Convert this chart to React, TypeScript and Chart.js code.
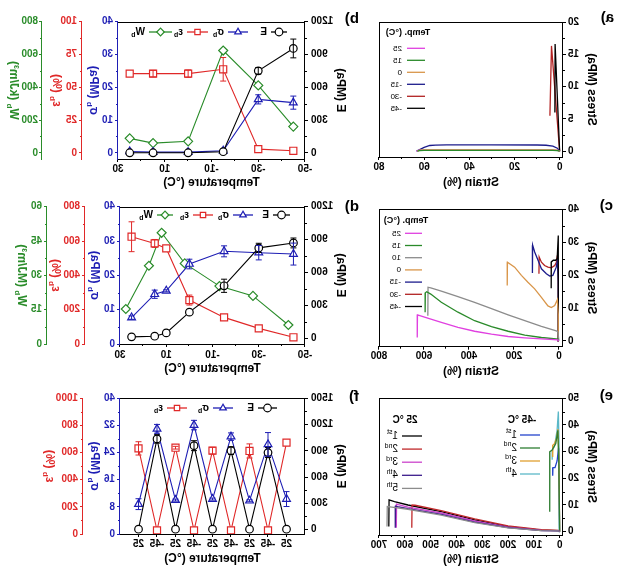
import React, { useEffect, useRef } from "react";
import { Chart, registerables } from "chart.js";

Chart.register(...registerables);

const FONT = "'Liberation Sans', Arial, Helvetica, sans-serif";
const BLACK = "#000000";
const BLUE = "#1e1eb4";
const RED = "#e02828";
const GREEN = "#2a8c2a";

/* ================= DATA ================= */
// Panel a: stress–strain at different temperatures
const aLegend = ["25", "15", "0", "-15", "-30", "-45"];
const aStrain25 = [0, 1, 3, 20, 40, 60, 62.5, 63.4];
const aStress25 = [0, 0.12, 0.15, 0.15, 0.15, 0.15, 0.12, 0];
const aStrain15 = [0, 1, 3, 20, 40, 60, 62, 63];
const aStress15 = [0, 0.1, 0.12, 0.12, 0.12, 0.12, 0.1, 0];
const aStrain0 = [0, 1, 3, 20, 40, 60, 62, 63];
const aStress0 = [0, 0.15, 0.2, 0.2, 0.2, 0.2, 0.15, 0];
const aStrainM15 = [0, 1, 3, 6, 10, 30, 50, 55, 57.5, 60, 62, 63.4];
const aStressM15 = [0, 0.45, 0.78, 0.92, 0.96, 0.97, 0.97, 0.95, 0.88, 0.6, 0.25, 0];
const aStrainM30 = [0, 3.6, 4.3];
const aStressM30 = [0, 16.3, 5.5];
const aStrainM45 = [0, 2.0, 2.1];
const aStressM45 = [0, 16.6, 6.0];

// Panel b: properties vs temperature
const bTemp = [25, 15, 0, -15, -30, -45];
const bE = [0, 0, 0, 10, 750, 955];
const bEErr = [0, 0, 0, 0, 30, 86];
const bSigma = [0.4, 0.2, 0.2, 0.6, 16.3, 15.3];
const bSigmaErr = [0, 0, 0, 0, 1.4, 2.0];
const bEps = [60.4, 60.4, 60.4, 63.7, 2.8, 1.5];
const bEpsErr = [0, 2.5, 2.8, 9, 0, 0];
const bW = [88, 59, 70, 624, 411, 160];

// Panel c: stress–strain
const cLegend = ["25", "15", "10", "0", "-15", "-30", "-45"];
const cStrain25 = [0, 4, 78, 152, 226, 300, 375, 449, 523, 580, 629, 630];
const cStress25 = [0, 0.3, 0.6, 0.9, 1.3, 2.0, 2.9, 4.1, 5.6, 6.8, 7.9, 1.0];
const cStrain15 = [0, 4, 78, 152, 226, 300, 375, 449, 523, 570, 588, 594, 595];
const cStress15 = [0, 0.5, 1.0, 1.7, 2.9, 4.3, 6.1, 8.7, 11.7, 14.2, 14.9, 14.6, 8.7];
const cStrain10 = [0, 5, 12, 78, 152, 226, 300, 375, 449, 523, 570, 582, 583];
const cStress10 = [0, 2.8, 3.0, 4.4, 6.1, 7.9, 9.8, 11.7, 13.4, 15.1, 16.1, 16.3, 7.6];
const cStrain0 = [0, 3, 7, 19, 34, 49, 78, 108, 138, 167, 197, 229, 230];
const cStress0 = [0, 8, 12.5, 10.7, 10.1, 10.6, 13.2, 15.8, 17.8, 19.9, 22.4, 23.9, 16.8];
const cStrainM15 = [0, 3, 7, 12, 27, 41, 56, 78, 93, 108, 117, 118];
const cStressM15 = [0, 18, 24.5, 22.4, 19.9, 19.7, 20.4, 21.9, 24.5, 27.0, 29.1, 20.6];
const cStrainM30 = [0, 3, 7, 12, 19, 34, 49, 64, 78, 88, 89];
const cStressM30 = [0, 20, 26, 23.8, 22.9, 22.2, 22.4, 22.9, 23.9, 25.5, 20.4];
const cStrainM45 = [0, 2, 4, 8, 15, 25, 34, 34.5];
const cStressM45 = [0, 20, 32, 25, 24.5, 24.5, 24, 16];

// Panel d: properties vs temperature
const dTemp = [25, 15, 10, 0, -15, -30, -45];
const dWTemp = [27.5, 17.5, 12, 2, -13, -27.5, -42.8];
const dE = [15, 21, 51, 240, 480, 825, 870];
const dEErr = [0, 0, 0, 0, 60, 42, 45];
const dSigma = [7.7, 14.5, 15.5, 23.3, 27.0, 26.6, 26.2];
const dSigmaErr = [0.5, 1.2, 0.3, 1.4, 1.6, 2.1, 3.2];
const dEps = [625, 586, 557, 256, 155, 91, 39];
const dEpsErr = [87, 23, 0, 29, 0, 0, 0];
const dW = [15.3, 34.2, 48.6, 35.2, 25.3, 21.0, 8.3];

// Panel e: cyclic stress–strain
const e25Legend = ["1", "2", "3", "4", "5"];
const e25Sup = ["st", "nd", "rd", "th", "th"];
const e45Legend = ["1", "2", "3", "4"];
const e45Sup = ["st", "nd", "rd", "th"];
const e25Strain1 = [0, 5, 71, 200, 329, 459, 588, 640, 661, 662];
const e25Stress1 = [0, 0.4, 0.6, 1.9, 4.4, 7.5, 10.0, 11.3, 11.9, 1.9];
const e25Strain2 = [0, 5, 71, 200, 329, 459, 560, 572, 573];
const e25Stress2 = [0, 0.5, 0.8, 2.2, 4.8, 7.9, 9.9, 10.0, 1.5];
const e25Strain3 = [0, 5, 71, 200, 329, 459, 588, 625, 632, 633];
const e25Stress3 = [0, 0.4, 0.5, 1.7, 4.0, 7.0, 9.2, 10.1, 10.3, 1.5];
const e25Strain4 = [0, 5, 71, 200, 329, 459, 588, 628, 636, 637];
const e25Stress4 = [0, 0.3, 0.4, 1.5, 3.6, 6.5, 8.6, 9.4, 9.6, 1.5];
const e25Strain5 = [0, 5, 71, 200, 329, 459, 588, 650, 668, 669];
const e25Stress5 = [0, 0.3, 0.4, 1.4, 3.4, 6.2, 8.4, 9.2, 9.4, 1.9];
const e45Strain1 = [0, 4, 10, 18, 26, 27];
const e45Stress1 = [0, 31.5, 26.5, 24, 24, 21];
const e45Strain2 = [0, 3, 7, 15, 30, 38, 38.5];
const e45Stress2 = [0, 25, 38, 33, 30.5, 30, 7.5];
const e45Strain3 = [0, 3, 7, 12, 20, 26, 27];
const e45Stress3 = [0, 28, 38.5, 35, 33, 32.5, 28];
const e45Strain4 = [0, 2, 5, 10, 20, 28, 29];
const e45Stress4 = [0, 30, 45, 38, 32, 30.6, 27];

// Panel f: alternating temperature cycles
const fLabels = ["25", "-45", "25", "-45", "25", "-45", "25", "-45", "25"];
const fPos = [1, 2, 3, 4, 5, 6, 7, 8, 9];
const fE = [5, 880, 5, 902, 5, 959, 5, 1036, 5];
const fEErr = [0, 57, 0, 45, 0, 57, 0, 48, 0];
const fSigma = [10.3, 26.4, 9.8, 28.7, 10.3, 32.1, 10.0, 31.0, 8.8];
const fSigmaErr = [2.2, 3.5, 0.3, 1.1, 0.3, 1.4, 0.3, 1.3, 1.6];
const fEps = [673, 27, 612, 27, 614, 27, 636, 27, 631];
const fEpsErr = [0, 0, 52, 0, 25, 0, 10, 0, 49];

/* ================= STYLES ================= */
const aColors = ["#e040e0", "#2a8a2a", "#d9964a", "#1c1c8c", "#b22222", "#000000"];
const cColors = ["#e040e0", "#2a8a2a", "#8c8c8c", "#d9964a", "#1c1c8c", "#b22222", "#000000"];
const e25Colors = ["#000000", "#c0282a", "#cc44cc", "#3c1c8c", "#8c8c8c"];
const e45Colors = ["#2444cc", "#2e7d32", "#e0a030", "#5bb8c8"];

/* ================= HELPERS ================= */
type Part = { t: string; s?: "sub" | "sup" };
const T = (t: string): Part => ({ t });
const SUB = (t: string): Part => ({ t, s: "sub" });
const SUP = (t: string): Part => ({ t, s: "sup" });

const fontStr = (size: number, weight: string) => `${weight} ${size}px ${FONT}`;

function drawRich(ctx: any, parts: Part[], x: number, y: number, size: number, weight: string, color: string, align: string) {
  ctx.save();
  ctx.fillStyle = color;
  ctx.textBaseline = "middle";
  ctx.textAlign = "left";
  const sz = (p: Part) => (p.s ? Math.round(size * 0.7) : size);
  let w = 0;
  for (const p of parts) {
    ctx.font = fontStr(sz(p), weight);
    w += ctx.measureText(p.t).width;
  }
  let cx = align === "center" ? x - w / 2 : x;
  for (const p of parts) {
    ctx.font = fontStr(sz(p), weight);
    const dy = p.s === "sub" ? size * 0.32 : p.s === "sup" ? -size * 0.35 : 0;
    ctx.fillText(p.t, cx, y + dy);
    cx += ctx.measureText(p.t).width;
  }
  ctx.restore();
}

function drawMarker(ctx: any, style: string, x: number, y: number, r: number, color: string) {
  ctx.save();
  ctx.beginPath();
  if (style === "circle") ctx.arc(x, y, r, 0, Math.PI * 2);
  else if (style === "triangle") {
    for (let k = 0; k < 3; k++) {
      const a = (k * 2 * Math.PI) / 3;
      const px = x + Math.sin(a) * r;
      const py = y - Math.cos(a) * r;
      if (k === 0) ctx.moveTo(px, py);
      else ctx.lineTo(px, py);
    }
    ctx.closePath();
  } else if (style === "rect") {
    const s = r * Math.SQRT1_2;
    ctx.rect(x - s, y - s, 2 * s, 2 * s);
  } else {
    ctx.moveTo(x, y - r);
    ctx.lineTo(x + r, y);
    ctx.lineTo(x, y + r);
    ctx.lineTo(x - r, y);
    ctx.closePath();
  }
  ctx.fillStyle = "#ffffff";
  ctx.fill();
  ctx.strokeStyle = color;
  ctx.lineWidth = 1.2;
  ctx.stroke();
  ctx.restore();
}

const pts = (xs: number[], ys: number[]) => xs.map((x, i) => ({ x, y: ys[i] }));
const range = (a: number, b: number, s: number) => {
  const out: number[] = [];
  for (let v = a; v <= b + 1e-9; v += s) out.push(Math.round(v * 1000) / 1000);
  return out;
};
const fixedTicks = (vals: number[]) => (s: any) => {
  s.ticks = vals.map((v) => ({ value: v }));
};
const tickFont = () => ({ family: FONT, size: 10, weight: "bold" as any });
const titleFont = () => ({ family: FONT, size: 12, weight: "bold" as any });

function axisBase(color: string, pad = 2, cb?: (v: any) => string) {
  return {
    grid: { display: true, drawOnChartArea: false, drawTicks: true, tickLength: 3, tickColor: color, color },
    border: { display: true, color, width: 1 },
    ticks: { color, font: tickFont(), padding: pad, autoSkip: false, maxRotation: 0, minRotation: 0, callback: cb || ((v: any) => String(v)) },
  };
}

interface LegendItem { x: number; y: number; len: number; gap: number; color: string; marker?: string; parts: Part[]; size: number; weight: string }
interface TextItem { x: number; y: number; parts: Part[]; size: number; weight: string; color: string; align: string }
interface AxisTitle { scale: string; dx: number; parts: Part[]; color: string }
interface Deco { rightBorder?: boolean; minor?: Record<string, number>; titles?: AxisTitle[]; legend?: LegendItem[]; texts?: TextItem[] }

function decoPlugin(cfg: Deco) {
  return {
    id: "deco",
    afterDraw(chart: any) {
      const ctx = chart.ctx;
      const a = chart.chartArea;
      ctx.save();
      ctx.strokeStyle = BLACK;
      ctx.lineWidth = 1;
      ctx.beginPath();
      const ty = Math.round(a.top) + 0.5;
      ctx.moveTo(a.left, ty);
      ctx.lineTo(a.right, ty);
      if (cfg.rightBorder) {
        const rx = Math.round(a.right) - 0.5;
        ctx.moveTo(rx, a.top);
        ctx.lineTo(rx, a.bottom);
      }
      ctx.stroke();
      // minor ticks
      for (const id of Object.keys(cfg.minor || {})) {
        const s = chart.scales[id];
        const step = (cfg.minor as any)[id];
        if (!s || !step) continue;
        const col = (s.options.border && s.options.border.color) || BLACK;
        const majors = s.ticks.map((t: any) => t.value);
        const pos = s.options.position;
        ctx.strokeStyle = col;
        ctx.lineWidth = 1;
        ctx.beginPath();
        const start = Math.ceil(s.min / step - 1e-9) * step;
        for (let v = start; v <= s.max + 1e-9; v += step) {
          if (majors.some((m: number) => Math.abs(m - v) < step * 1e-3)) continue;
          const p = Math.round(s.getPixelForValue(v)) + 0.5;
          if (pos === "bottom") {
            ctx.moveTo(p, s.top);
            ctx.lineTo(p, s.top + 2);
          } else if (pos === "left") {
            ctx.moveTo(s.right, p);
            ctx.lineTo(s.right - 2, p);
          } else {
            ctx.moveTo(s.left, p);
            ctx.lineTo(s.left + 2, p);
          }
        }
        ctx.stroke();
      }
      // error bars
      chart.data.datasets.forEach((ds: any, i: number) => {
        if (!ds.errorBars) return;
        const meta = chart.getDatasetMeta(i);
        const sc = chart.scales[ds.yAxisID];
        ctx.strokeStyle = ds.borderColor;
        ctx.lineWidth = 1;
        meta.data.forEach((el: any, j: number) => {
          const e = ds.errorBars[j];
          if (!e) return;
          const v = ds.data[j].y;
          const y1 = sc.getPixelForValue(v + e);
          const y2 = sc.getPixelForValue(v - e);
          ctx.beginPath();
          ctx.moveTo(el.x, y1);
          ctx.lineTo(el.x, y2);
          ctx.moveTo(el.x - 3, y1);
          ctx.lineTo(el.x + 3, y1);
          ctx.moveTo(el.x - 3, y2);
          ctx.lineTo(el.x + 3, y2);
          ctx.stroke();
        });
      });
      for (const t of cfg.titles || []) {
        const s = chart.scales[t.scale];
        ctx.save();
        ctx.translate(s.left + t.dx, (a.top + a.bottom) / 2);
        ctx.rotate(-Math.PI / 2);
        drawRich(ctx, t.parts, 0, 0, 12, "bold", t.color, "center");
        ctx.restore();
      }
      for (const it of cfg.legend || []) {
        ctx.strokeStyle = it.color;
        ctx.lineWidth = 1.3;
        ctx.beginPath();
        ctx.moveTo(it.x, it.y);
        ctx.lineTo(it.x + it.len, it.y);
        ctx.stroke();
        if (it.marker) drawMarker(ctx, it.marker, it.x + it.len / 2, it.y, 3.8, it.color);
        drawRich(ctx, it.parts, it.x + it.len + it.gap, it.y, it.size, it.weight, BLACK, "left");
      }
      for (const tx of cfg.texts || []) {
        drawRich(ctx, tx.parts, tx.x, tx.y, tx.size, tx.weight, tx.color, tx.align);
      }
      ctx.restore();
    },
  };
}

/* ================= CHART BUILDERS ================= */
function makeStress(p: any) {
  const xa = axisBase(BLACK, p.labelPad);
  const ya = axisBase(BLACK, 2);
  return {
    type: "scatter",
    data: {
      datasets: p.curves.map((c: any) => ({
        data: pts(c.xs, c.ys),
        borderColor: c.color,
        backgroundColor: c.color,
        showLine: true,
        pointRadius: 0,
        pointHoverRadius: 0,
        borderWidth: 1.3,
        tension: 0,
      })),
    },
    options: {
      responsive: false,
      animation: false,
      devicePixelRatio: 1,
      events: [],
      layout: { padding: { top: p.top, right: 19, left: 0, bottom: 0 } },
      plugins: { legend: { display: false }, tooltip: { enabled: false } },
      scales: {
        x: {
          type: "linear",
          position: "bottom",
          min: p.xMin,
          max: p.xMax,
          afterBuildTicks: fixedTicks(p.xTicks),
          afterFit: (s: any) => {
            s.height = p.H - p.bottom;
          },
          ...xa,
          title: { display: true, text: "Strain (%)", color: BLACK, font: titleFont(), padding: { top: 0, bottom: p.titlePad } },
        },
        y: {
          type: "linear",
          position: "left",
          min: p.yMin,
          max: p.yMax,
          afterBuildTicks: fixedTicks(p.yTicks),
          afterFit: (s: any) => {
            s.width = 77;
          },
          ...ya,
          title: { display: true, text: "Stress (MPa)", color: BLACK, font: titleFont(), padding: { top: 41, bottom: 0 } },
        },
      },
    },
    plugins: [decoPlugin({ rightBorder: true, minor: { x: p.xMinor, y: p.yMinor }, legend: p.legend, texts: p.texts })],
  };
}

function series(xs: number[], ys: number[], yAxisID: string, color: string, pointStyle: string, radius: number, errs?: number[]) {
  return {
    data: pts(xs, ys),
    yAxisID,
    borderColor: color,
    backgroundColor: "#ffffff",
    pointBorderColor: color,
    pointBackgroundColor: "#ffffff",
    pointStyle,
    pointRadius: radius,
    pointHoverRadius: radius,
    pointBorderWidth: 1.2,
    borderWidth: 1.1,
    showLine: true,
    tension: 0,
    errorBars: errs,
  };
}

function makeRight(p: any) {
  const scales: any = {
    x: {
      type: "linear",
      position: "bottom",
      min: p.x.min,
      max: p.x.max,
      afterBuildTicks: fixedTicks(p.x.ticks),
      afterFit: (s: any) => {
        s.height = p.H - p.bottom;
      },
      ...axisBase(BLACK, p.labelPad, p.x.callback),
      title: { display: true, text: "Temperature (°C)", color: BLACK, font: titleFont(), padding: { top: 0, bottom: p.titlePad } },
    },
    yE: {
      type: "linear",
      position: "left",
      min: p.e.min,
      max: p.e.max,
      afterBuildTicks: fixedTicks(p.e.ticks),
      afterFit: (s: any) => {
        s.width = 55;
      },
      ...axisBase(BLACK, 3),
      title: { display: true, text: "E (MPa)", color: BLACK, font: titleFont(), padding: { top: 12, bottom: 0 } },
    },
  };
  const minor: any = { yE: p.e.minor };
  if (p.x.minor) minor.x = p.x.minor;
  const titles: AxisTitle[] = [];
  p.axes.forEach((ax: any, k: number) => {
    scales[ax.id] = {
      type: "linear",
      position: "right",
      weight: k,
      min: ax.min,
      max: ax.max,
      afterBuildTicks: fixedTicks(ax.ticks),
      afterFit: (s: any) => {
        s.width = ax.width;
      },
      ...axisBase(ax.color, ax.pad ?? 2),
      title: { display: false },
    };
    minor[ax.id] = ax.minor;
    titles.push({ scale: ax.id, dx: ax.dx, parts: ax.title, color: ax.color });
  });
  return {
    type: "scatter",
    data: { datasets: p.datasets },
    options: {
      responsive: false,
      animation: false,
      devicePixelRatio: 1,
      events: [],
      layout: { padding: { top: p.top, right: 0, left: 0, bottom: 0 } },
      plugins: { legend: { display: false }, tooltip: { enabled: false } },
      scales,
    },
    plugins: [decoPlugin({ minor, titles, legend: p.legend })],
  };
}

const legendRow = (y: number, items: { x: number; len: number; marker: string; color: string; parts: Part[] }[]): LegendItem[] =>
  items.map((it) => ({ ...it, y, gap: 4, size: 10, weight: "bold" }));

const sigmaT = [T("σ"), SUB("b"), T(" (MPa)")];
const epsT = [T("ε"), SUB("b"), T(" (%)")];

/* ---------- panel configs ---------- */
const makeA = () =>
  makeStress({
    H: 190, top: 22, bottom: 157, labelPad: 1, titlePad: 0,
    xMin: -1.5, xMax: 80, xTicks: range(0, 80, 20), xMinor: 10,
    yMin: -0.9, yMax: 20, yTicks: range(0, 20, 5), yMinor: 2.5,
    curves: [
      { xs: aStrain15, ys: aStress15, color: aColors[1] },
      { xs: aStrain0, ys: aStress0, color: aColors[2] },
      { xs: aStrain25, ys: aStress25, color: aColors[0] },
      { xs: aStrainM15, ys: aStressM15, color: aColors[3] },
      { xs: aStrainM45, ys: aStressM45, color: aColors[5] },
      { xs: aStrainM30, ys: aStressM30, color: aColors[4] },
    ],
    texts: [{ x: 232, y: 33, parts: [T("Temp. (°C)")], size: 9, weight: "bold", color: BLACK, align: "center" }],
    legend: aLegend.map((n, i) => ({ x: 215, y: 48.3 + i * 12, len: 18, gap: 5, color: aColors[i], parts: [T(n)], size: 8, weight: "normal" })),
  });

const makeC = () =>
  makeStress({
    H: 190, top: 19.3, bottom: 156.7, labelPad: 1, titlePad: 1,
    xMin: -18, xMax: 800, xTicks: range(0, 800, 200), xMinor: 100,
    yMin: -1.8, yMax: 40, yTicks: range(0, 40, 10), yMinor: 5,
    curves: [
      { xs: cStrain25, ys: cStress25, color: cColors[0] },
      { xs: cStrain15, ys: cStress15, color: cColors[1] },
      { xs: cStrain10, ys: cStress10, color: cColors[2] },
      { xs: cStrain0, ys: cStress0, color: cColors[3] },
      { xs: cStrainM45, ys: cStressM45, color: cColors[6] },
      { xs: cStrainM15, ys: cStressM15, color: cColors[4] },
      { xs: cStrainM30, ys: cStressM30, color: cColors[5] },
    ],
    texts: [{ x: 234, y: 31, parts: [T("Temp. (°C)")], size: 9, weight: "bold", color: BLACK, align: "center" }],
    legend: cLegend.map((n, i) => ({ x: 218, y: 43.3 + i * 12.2, len: 17, gap: 4, color: cColors[i], parts: [T(n)], size: 8, weight: "normal" })),
  });

const makeE = () =>
  makeStress({
    H: 192, top: 18.3, bottom: 155, labelPad: 1, titlePad: 5,
    xMin: -13, xMax: 700, xTicks: range(0, 700, 100), xMinor: 50,
    yMin: -1.25, yMax: 50, yTicks: range(0, 50, 10), yMinor: 5,
    curves: [
      { xs: e25Strain5, ys: e25Stress5, color: e25Colors[4] },
      { xs: e25Strain4, ys: e25Stress4, color: e25Colors[3] },
      { xs: e25Strain3, ys: e25Stress3, color: e25Colors[2] },
      { xs: e25Strain2, ys: e25Stress2, color: e25Colors[1] },
      { xs: e25Strain1, ys: e25Stress1, color: e25Colors[0] },
      { xs: e45Strain2, ys: e45Stress2, color: e45Colors[1] },
      { xs: e45Strain3, ys: e45Stress3, color: e45Colors[2] },
      { xs: e45Strain1, ys: e45Stress1, color: e45Colors[0] },
      { xs: e45Strain4, ys: e45Stress4, color: e45Colors[3] },
    ],
    texts: [
      { x: 235, y: 40, parts: [T("25 °C")], size: 10, weight: "bold", color: BLACK, align: "center" },
      { x: 118, y: 40, parts: [T("-45 °C")], size: 10, weight: "bold", color: BLACK, align: "center" },
    ],
    legend: [
      ...e25Legend.map((n, i) => ({ x: 218, y: 56 + i * 13.1, len: 20, gap: 4, color: e25Colors[i], parts: [T(n), SUP(e25Sup[i])], size: 10, weight: "normal" })),
      ...e45Legend.map((n, i) => ({ x: 100, y: 55 + i * 13, len: 20, gap: 3, color: e45Colors[i], parts: [T(n), SUP(e45Sup[i])], size: 10, weight: "normal" })),
    ],
  });

const tempX = { min: -50, max: 30, ticks: range(-50, 30, 20), minor: 10 };

const makeB = () =>
  makeRight({
    H: 190, top: 21.7, bottom: 159, labelPad: 1, titlePad: 0,
    x: tempX,
    e: { min: -57, max: 1200, ticks: range(0, 1200, 300), minor: 150 },
    axes: [
      { id: "ys", color: BLUE, min: -1.9, max: 40, ticks: range(0, 40, 10), minor: 5, width: 36, dx: 25, title: sigmaT },
      { id: "yeps", color: RED, min: -4.75, max: 100, ticks: range(0, 100, 25), minor: 12.5, width: 40, dx: 26, title: epsT },
      { id: "yw", color: GREEN, min: -38, max: 800, ticks: range(0, 800, 200), minor: 100, width: 42, dx: 29, pad: 1, title: [T("W"), SUB("b"), T(" (kJ/m³)")] },
    ],
    datasets: [
      series(bTemp, bE, "yE", BLACK, "circle", 3.8, bEErr),
      series(bTemp, bSigma, "ys", BLUE, "triangle", 4.5, bSigmaErr),
      series(bTemp, bEps, "yeps", RED, "rect", 5, bEpsErr),
      series(bTemp, bW, "yw", GREEN, "rectRot", 4.5),
    ],
    legend: legendRow(32, [
      { x: 73, len: 16, marker: "circle", color: BLACK, parts: [T("E")] },
      { x: 112, len: 20, marker: "triangle", color: BLUE, parts: [T("σ"), SUB("b")] },
      { x: 152, len: 21, marker: "rect", color: RED, parts: [T("ε"), SUB("b")] },
      { x: 188, len: 23, marker: "rectRot", color: GREEN, parts: [T("W"), SUB("b")] },
    ]),
  });

const makeD = () =>
  makeRight({
    H: 190, top: 16.7, bottom: 154, labelPad: 2, titlePad: 4.5,
    x: tempX,
    e: { min: -50, max: 1200, ticks: range(0, 1200, 300), minor: 150 },
    axes: [
      { id: "ys", color: BLUE, min: 0, max: 40, ticks: range(0, 40, 10), minor: 5, width: 35, dx: 26, title: sigmaT },
      { id: "yeps", color: RED, min: 0, max: 800, ticks: range(0, 800, 200), minor: 100, width: 38, dx: 30, title: epsT },
      { id: "yw", color: GREEN, min: 0, max: 60, ticks: range(0, 60, 15), minor: 7.5, width: 47, dx: 26, title: [T("W"), SUB("b"), T(" (MJ/m³)")] },
    ],
    datasets: [
      series(dTemp, dE, "yE", BLACK, "circle", 3.8, dEErr),
      series(dTemp, dSigma, "ys", BLUE, "triangle", 4.5, dSigmaErr),
      series(dTemp, dEps, "yeps", RED, "rect", 5, dEpsErr),
      series(dWTemp, dW, "yw", GREEN, "rectRot", 4.5),
    ],
    legend: legendRow(25, [
      { x: 70, len: 17, marker: "circle", color: BLACK, parts: [T("E")] },
      { x: 107, len: 20, marker: "triangle", color: BLUE, parts: [T("σ"), SUB("b")] },
      { x: 147, len: 20, marker: "rect", color: RED, parts: [T("ε"), SUB("b")] },
      { x: 187, len: 16, marker: "rectRot", color: GREEN, parts: [T("W"), SUB("b")] },
    ]),
  });

const makeF = () =>
  makeRight({
    H: 192, top: 18.3, bottom: 154, labelPad: 1, titlePad: 6.5,
    x: { min: 0, max: 10, ticks: fPos, minor: 0, callback: (v: any) => fLabels[Math.round(v) - 1] || "" },
    e: { min: -50, max: 1500, ticks: range(0, 1500, 300), minor: 150 },
    axes: [
      { id: "ys", color: BLUE, min: 0, max: 40, ticks: range(0, 40, 8), minor: 4, width: 37, dx: 26, title: sigmaT },
      { id: "yeps", color: RED, min: 0, max: 1000, ticks: range(0, 1000, 200), minor: 100, width: 83, dx: 34, title: epsT },
    ],
    datasets: [
      series(fPos, fE, "yE", BLACK, "circle", 3.8, fEErr),
      series(fPos, fSigma, "ys", BLUE, "triangle", 4.5, fSigmaErr),
      series(fPos, fEps, "yeps", RED, "rect", 5, fEpsErr),
    ],
    legend: legendRow(28, [
      { x: 83, len: 19, marker: "circle", color: BLACK, parts: [T("E")] },
      { x: 127, len: 20, marker: "triangle", color: BLUE, parts: [T("σ"), SUB("b")] },
      { x: 173, len: 20, marker: "rect", color: RED, parts: [T("ε"), SUB("b")] },
    ]),
  });

/* ================= COMPONENTS ================= */
function ChartBox({ left, top, width, height, make }: { left: number; top: number; width: number; height: number; make: () => any }) {
  const ref = useRef<HTMLCanvasElement | null>(null);
  useEffect(() => {
    if (!ref.current) return;
    const chart = new Chart(ref.current, make());
    return () => chart.destroy();
  }, [make]);
  return (
    <div style={{ position: "absolute", left, top, width, height }}>
      <canvas ref={ref} width={width} height={height} style={{ display: "block" }} />
    </div>
  );
}

const panelLabels = [
  { t: "a)", x: 26, y: 8 },
  { t: "b)", x: 281, y: 9 },
  { t: "c)", x: 27, y: 196 },
  { t: "d)", x: 281, y: 197 },
  { t: "e)", x: 27, y: 386 },
  { t: "f)", x: 281, y: 387 },
];

export default function App() {
  return (
    <div
      style={{
        position: "absolute",
        left: 0,
        top: 0,
        width: 640,
        height: 572,
        background: "#ffffff",
        overflow: "hidden",
        transform: "scaleX(-1)",
        transformOrigin: "center",
        fontFamily: FONT,
      }}
    >
      <ChartBox left={0} top={0} width={280} height={190} make={makeA} />
      <ChartBox left={280} top={0} width={360} height={190} make={makeB} />
      <ChartBox left={0} top={190} width={280} height={190} make={makeC} />
      <ChartBox left={280} top={190} width={360} height={190} make={makeD} />
      <ChartBox left={0} top={380} width={280} height={192} make={makeE} />
      <ChartBox left={280} top={380} width={360} height={192} make={makeF} />
      {panelLabels.map((l) => (
        <div key={l.t} style={{ position: "absolute", left: l.x, top: l.y, fontSize: 15, fontWeight: "bold", lineHeight: "18px", color: "#000" }}>
          {l.t}
        </div>
      ))}
    </div>
  );
}
